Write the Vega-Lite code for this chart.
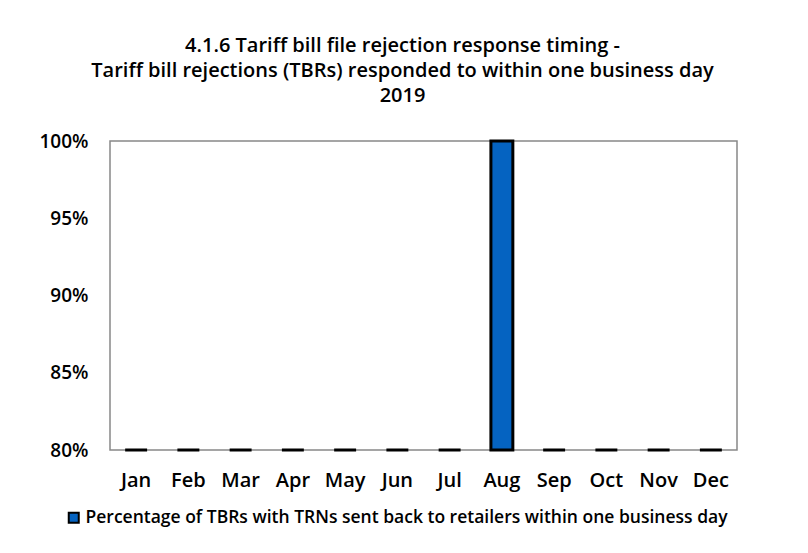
{
  "$schema": "https://vega.github.io/schema/vega-lite/v6.json",
  "width": 627,
  "height": 309,
  "autosize": {"type": "none"},
  "padding": {"left": 110, "top": 141, "right": 71, "bottom": 103},
  "background": "white",
  "data": {"values": [
    {"month": "Jan", "value": 0.8, "series": "Percentage of TBRs with TRNs sent back to retailers within one business day"},
    {"month": "Feb", "value": 0.8, "series": "Percentage of TBRs with TRNs sent back to retailers within one business day"},
    {"month": "Mar", "value": 0.8, "series": "Percentage of TBRs with TRNs sent back to retailers within one business day"},
    {"month": "Apr", "value": 0.8, "series": "Percentage of TBRs with TRNs sent back to retailers within one business day"},
    {"month": "May", "value": 0.8, "series": "Percentage of TBRs with TRNs sent back to retailers within one business day"},
    {"month": "Jun", "value": 0.8, "series": "Percentage of TBRs with TRNs sent back to retailers within one business day"},
    {"month": "Jul", "value": 0.8, "series": "Percentage of TBRs with TRNs sent back to retailers within one business day"},
    {"month": "Aug", "value": 1.0, "series": "Percentage of TBRs with TRNs sent back to retailers within one business day"},
    {"month": "Sep", "value": 0.8, "series": "Percentage of TBRs with TRNs sent back to retailers within one business day"},
    {"month": "Oct", "value": 0.8, "series": "Percentage of TBRs with TRNs sent back to retailers within one business day"},
    {"month": "Nov", "value": 0.8, "series": "Percentage of TBRs with TRNs sent back to retailers within one business day"},
    {"month": "Dec", "value": 0.8, "series": "Percentage of TBRs with TRNs sent back to retailers within one business day"}
  ]},
  "title": {
    "text": ["4.1.6 Tariff bill file rejection response timing -", "Tariff bill rejections (TBRs) responded to within one business day", "2019"],
    "font": "Open Sans",
    "fontSize": 20,
    "fontWeight": 600,
    "lineHeight": 25,
    "color": "black",
    "anchor": "middle",
    "dx": -21,
    "offset": 26
  },
  "mark": {"type": "bar", "stroke": "black", "strokeWidth": 3},
  "encoding": {
    "x": {
      "field": "month",
      "type": "nominal",
      "sort": null,
      "scale": {"paddingInner": 0.58, "paddingOuter": 0.29},
      "axis": {"title": null, "labelAngle": 0, "labelFont": "Open Sans", "labelFontSize": 20, "labelFontWeight": 600, "labelColor": "black", "ticks": false, "domain": false, "labelPadding": 20}
    },
    "y": {
      "field": "value",
      "type": "quantitative",
      "scale": {"domain": [0.8, 1.0], "zero": false, "nice": false},
      "axis": {"title": null, "format": ".0%", "values": [0.8, 0.85, 0.9, 0.95, 1.0], "labelFont": "Open Sans", "labelFontSize": 19, "labelFontWeight": 600, "labelColor": "black", "ticks": false, "domain": false, "grid": false, "labelPadding": 22}
    },
    "y2": {"datum": 0.8},
    "color": {
      "field": "series",
      "type": "nominal",
      "scale": {"range": ["#0563C1"]},
      "legend": {"title": null, "orient": "none", "legendX": -45, "legendY": 368, "labelFont": "Open Sans", "labelFontSize": 17.5, "labelFontWeight": 600, "labelColor": "black", "symbolType": "square", "symbolSize": 100, "symbolStrokeColor": "black", "symbolStrokeWidth": 2, "labelLimit": 800, "labelOffset": 3}
    }
  },
  "config": {
    "view": {"stroke": "#888888", "strokeWidth": 1.5}
  }
}
